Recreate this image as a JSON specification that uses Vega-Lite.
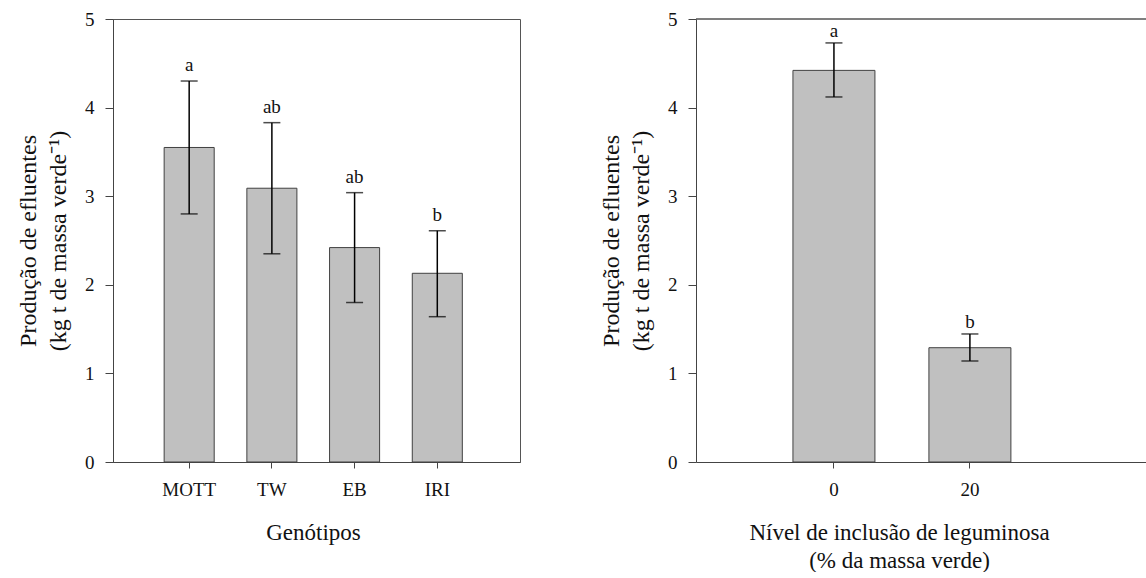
{
  "$schema": "https://vega.github.io/schema/vega-lite/v6.json",
  "background": "white",
  "padding": {"left": 16, "top": 9, "right": 0, "bottom": 0},
  "spacing": 78,
  "config": {
    "font": "Liberation Serif",
    "view": {"stroke": "#555", "strokeWidth": 1},
    "axis": {
      "grid": false,
      "domainColor": "#444",
      "tickColor": "#444",
      "labelFont": "Liberation Serif",
      "labelFontSize": 19,
      "labelColor": "#111",
      "titleFont": "Liberation Serif",
      "titleFontSize": 23,
      "titleFontWeight": "normal",
      "titleColor": "#111"
    }
  },
  "hconcat": [
    {
      "width": 407,
      "height": 443,
      "data": {"values": [
        {"g": "MOTT", "mean": 3.55, "lo": 2.80, "hi": 4.30, "letter": "a"},
        {"g": "TW", "mean": 3.09, "lo": 2.35, "hi": 3.83, "letter": "ab"},
        {"g": "EB", "mean": 2.42, "lo": 1.80, "hi": 3.04, "letter": "ab"},
        {"g": "IRI", "mean": 2.13, "lo": 1.64, "hi": 2.61, "letter": "b"}
      ]},
      "encoding": {
        "x": {"field": "g", "type": "nominal", "sort": null,
          "scale": {"paddingInner": 0.395, "paddingOuter": 0.658, "align": 0.47},
          "axis": {"title": "Genótipos", "labelAngle": 0, "tickSize": 6, "labelPadding": 12, "titlePadding": 22, "titleX": 200}}
      },
      "layer": [
        {"mark": {"type": "bar", "fill": "#c0c0c0", "stroke": "#404040", "strokeWidth": 1},
          "encoding": {"y": {"field": "mean", "type": "quantitative",
            "scale": {"domain": [0, 5], "nice": false},
            "axis": {"values": [0, 1, 2, 3, 4, 5], "format": "d", "tickSize": 8, "labelPadding": 11, "titlePadding": 14,
              "titleFontSize": 24, "titleLineHeight": 30,
              "title": ["Produção de efluentes", "(kg t de massa verde⁻¹)"]}}}},
        {"mark": {"type": "rule", "color": "black", "strokeWidth": 1.5},
          "encoding": {"y": {"field": "lo", "type": "quantitative"}, "y2": {"field": "hi"}}},
        {"mark": {"type": "tick", "color": "black", "size": 17, "thickness": 1.5},
          "encoding": {"y": {"field": "lo", "type": "quantitative"}}},
        {"mark": {"type": "tick", "color": "black", "size": 17, "thickness": 1.5},
          "encoding": {"y": {"field": "hi", "type": "quantitative"}}},
        {"mark": {"type": "text", "fontSize": 19, "dy": -10, "baseline": "alphabetic", "color": "#111"},
          "encoding": {"y": {"field": "hi", "type": "quantitative"}, "text": {"field": "letter"}}}
      ]
    },
    {
      "width": 451,
      "height": 443,
      "view": {"stroke": null},
      "data": {"values": [
        {"n": "0", "mean": 4.42, "lo": 4.12, "hi": 4.73, "letter": "a"},
        {"n": "20", "mean": 1.29, "lo": 1.14, "hi": 1.445, "letter": "b"}
      ]},
      "layer": [
        {"mark": {"type": "bar", "fill": "#c0c0c0", "stroke": "#404040", "strokeWidth": 1},
          "encoding": {
            "x": {"field": "n", "type": "nominal", "sort": null,
              "scale": {"paddingInner": 0.397, "paddingOuter": 0.857, "align": 0.416},
              "axis": {"title": ["Nível de inclusão de leguminosa", "(% da massa verde)"], "titleLineHeight": 28,
                "labelAngle": 0, "tickSize": 6, "labelPadding": 12, "titlePadding": 22, "titleX": 203}},
            "y": {"field": "mean", "type": "quantitative",
            "scale": {"domain": [0, 5], "nice": false},
            "axis": {"values": [0, 1, 2, 3, 4, 5], "format": "d", "tickSize": 8, "labelPadding": 11, "titlePadding": 14,
              "titleFontSize": 24, "titleLineHeight": 30,
              "title": ["Produção de efluentes", "(kg t de massa verde⁻¹)"]}}}},
        {"mark": {"type": "rule", "color": "black", "strokeWidth": 1.5},
          "encoding": {"x": {"field": "n", "type": "nominal", "sort": null}, "y": {"field": "lo", "type": "quantitative"}, "y2": {"field": "hi"}}},
        {"mark": {"type": "tick", "color": "black", "size": 17, "thickness": 1.5},
          "encoding": {"x": {"field": "n", "type": "nominal", "sort": null}, "y": {"field": "lo", "type": "quantitative"}}},
        {"mark": {"type": "tick", "color": "black", "size": 17, "thickness": 1.5},
          "encoding": {"x": {"field": "n", "type": "nominal", "sort": null}, "y": {"field": "hi", "type": "quantitative"}}},
        {"mark": {"type": "text", "fontSize": 19, "dy": -6, "baseline": "alphabetic", "color": "#111"},
          "encoding": {"x": {"field": "n", "type": "nominal", "sort": null}, "y": {"field": "hi", "type": "quantitative"}, "text": {"field": "letter"}}},
        {"mark": {"type": "rule", "color": "#555", "strokeWidth": 1},
          "encoding": {"y": {"datum": 5, "type": "quantitative"}}}
      ]
    }
  ]
}
